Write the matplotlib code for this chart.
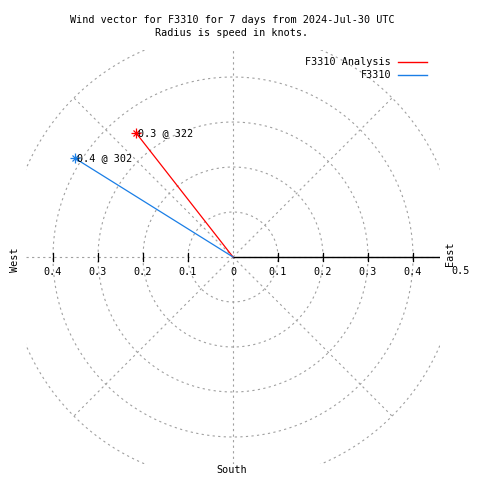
import numpy as np
import matplotlib
matplotlib.use('Agg')
import matplotlib.pyplot as plt

# vectors (speed in knots, direction in degrees)
series_names = ['F3310 Analysis', 'F3310']
speeds = [0.35, 0.415]
directions = [322, 302]
point_labels = ['0.3 @ 322', '0.4 @ 302']
series_colors = ['#ff0000', '#1a7ee6']

ring_radii = [0.1, 0.2, 0.3, 0.4, 0.5]
spoke_angles = [45, 135, 225, 315]
tick_values = [0.1, 0.2, 0.3, 0.4]
tick_labels = ['0.1', '0.2', '0.3', '0.4']

title_lines = ['Wind vector for F3310 for 7 days from 2024-Jul-30 UTC',
               'Radius is speed in knots.']

FONT = 'DejaVu Sans Mono'
FS = 7.3
GRID = '#a0a0a0'
LIM = 0.46

def px(x, y):
    # pixel position -> figure fraction
    return x / 480, 1 - y / 480

def plot_wind_vectors():
    fig = plt.figure(figsize=(4.8, 4.8), dpi=100)
    ax = fig.add_axes([26 / 480, 16 / 480, 414 / 480, 414 / 480])
    ax.set_xlim(-LIM, LIM)
    ax.set_ylim(-LIM, LIM)
    ax.set_aspect('equal')
    ax.axis('off')

    grid_kw = dict(color=GRID, lw=0.8, ls=(0, (2, 3)), zorder=1)

    # rings
    t = np.linspace(0, 2 * np.pi, 400)
    for r in ring_radii:
        ax.plot(r * np.cos(t), r * np.sin(t), **grid_kw)
    # spokes
    for a in spoke_angles:
        ax.plot([0, 0.5 * np.cos(np.radians(a))], [0, 0.5 * np.sin(np.radians(a))], **grid_kw)
    ax.plot([-LIM, LIM], [0, 0], **grid_kw)
    ax.plot([0, 0], [-LIM, LIM], **grid_kw)

    # r axis (east side) and ticks
    ax.plot([0, LIM], [0, 0], color='black', lw=1.0, zorder=2)
    for v in tick_values:
        ax.plot([v, v], [-0.008, 0.008], color='black', lw=0.9, zorder=2)
        ax.plot([-v, -v], [-0.008, 0.008], color='black', lw=0.9, zorder=2)

    # vectors
    for name, s, d, lab, c in zip(series_names, speeds, directions, point_labels, series_colors):
        x = s * np.sin(np.radians(d))
        y = s * np.cos(np.radians(d))
        ax.plot([0, x], [0, y], color=c, lw=0.9, zorder=3)
        ax.plot([x], [y], marker='+', ms=7, mew=0.9, color=c, zorder=4)
        ax.plot([x], [y], marker='x', ms=5, mew=0.9, color=c, zorder=4)
        ax.annotate(lab, (x, y), xytext=(2, 0), textcoords='offset pixels',
                    ha='left', va='center', family=FONT, fontsize=FS, zorder=5)

    # tick labels along the horizontal axis
    for v, lab in zip(tick_values, tick_labels):
        fig.text(*px(233 - v * 450, 272), lab, ha='center', va='center', family=FONT, fontsize=FS)
        fig.text(*px(233 + v * 450, 272), lab, ha='center', va='center', family=FONT, fontsize=FS)
    fig.text(*px(233, 272), '0', ha='center', va='center', family=FONT, fontsize=FS)
    fig.text(*px(461, 271), '0.5', ha='center', va='center', family=FONT, fontsize=FS)

    # compass labels
    fig.text(*px(15, 260), 'West', rotation=90, ha='center', va='center', family=FONT, fontsize=FS)
    fig.text(*px(450, 254), 'East', rotation=90, ha='center', va='center', family=FONT, fontsize=FS)
    fig.text(*px(232, 470), 'South', ha='center', va='center', family=FONT, fontsize=FS)

    # title
    fig.text(*px(232, 20), title_lines[0], ha='center', va='center', family=FONT, fontsize=FS)
    fig.text(*px(232, 33), title_lines[1], ha='center', va='center', family=FONT, fontsize=FS)

    # legend
    for i, (name, c) in enumerate(zip(series_names, series_colors)):
        yy = 62 + 13 * i
        fig.text(*px(391, yy), name, ha='right', va='center', family=FONT, fontsize=FS)
        fig.add_artist(plt.Line2D([398 / 480, 427 / 480], [1 - yy / 480] * 2, color=c, lw=1.0))

    fig.savefig('out.png', dpi=100)

plot_wind_vectors()
